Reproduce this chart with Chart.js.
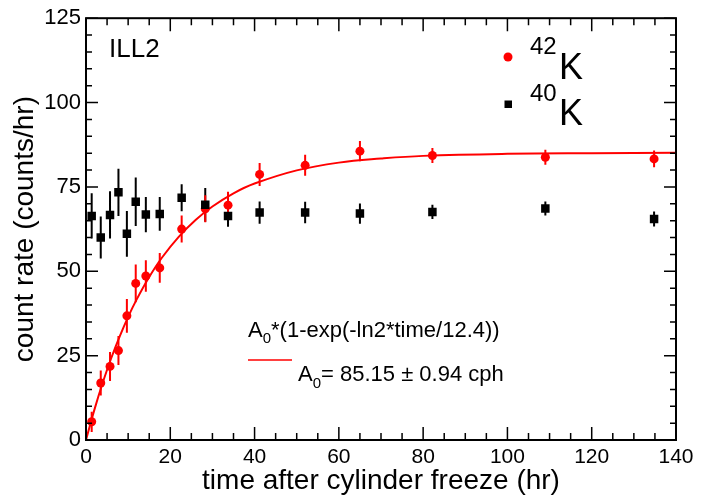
<!DOCTYPE html>
<html>
<head>
<meta charset="utf-8">
<script src="https://cdn.jsdelivr.net/npm/chart.js@4.4.1/dist/chart.umd.min.js"></script>
<style>
  html, body { margin: 0; padding: 0; background: #fff; }
  #wrap { width: 702px; height: 498px; }
</style>
</head>
<body>
<div id="wrap"><canvas id="chart"></canvas></div>
<script>
// measured points (hr after freeze)
const timeHr = [1.35, 3.5, 5.7, 7.7, 9.7, 11.8, 14.2, 17.5, 22.7, 28.3, 33.7, 41.2, 52.0, 65.0, 82.2, 109.0, 134.8];
const k42Rate = [5.4, 16.9, 21.8, 26.5, 36.8, 46.4, 48.6, 51.0, 62.5, 68.5, 69.6, 78.7, 81.4, 85.6, 84.3, 83.8, 83.3];
const k42Err = [3.0, 3.7, 4.3, 4.3, 5.0, 5.6, 4.7, 4.4, 4.0, 4.0, 4.0, 3.4, 3.1, 3.0, 2.2, 2.2, 2.5];
const k40Rate = [66.4, 60.0, 66.7, 73.4, 61.1, 70.6, 66.8, 67.0, 71.8, 69.7, 66.4, 67.4, 67.4, 67.1, 67.6, 68.6, 65.5];
const k40Err = [6.7, 6.2, 7.0, 7.0, 6.8, 7.2, 5.2, 5.0, 4.0, 5.0, 3.2, 3.3, 3.2, 3.0, 2.1, 2.1, 2.2];

// fit curve
const fitTime = [0, 2, 4, 6, 8, 10, 12, 15, 18, 22, 26, 30, 35, 40, 50, 60, 70, 80, 100, 120, 140];
const fitRate = [0, 9.0, 17.1, 24.3, 30.7, 36.5, 41.6, 48.3, 54.0, 60.2, 65.2, 69.2, 73.1, 76.0, 79.9, 82.2, 83.4, 84.2, 84.8, 85.0, 85.1];

const FONT = '"Liberation Sans", Arial, Helvetica, sans-serif';
const RED = '#ff0000';

const pts = (xs, ys) => xs.map((t, i) => ({ x: t, y: ys[i] }));

// error bars under the markers
const errorBars = {
  id: 'errorBars',
  beforeDatasetsDraw(chart) {
    const { ctx } = chart;
    const { x, y } = chart.scales;
    ctx.save();
    ctx.lineWidth = 2;
    chart.data.datasets.forEach(ds => {
      if (!ds.err) return;
      ctx.strokeStyle = ds.borderColor;
      ctx.beginPath();
      ds.data.forEach((p, i) => {
        const px = x.getPixelForValue(p.x);
        ctx.moveTo(px, y.getPixelForValue(p.y - ds.err[i]));
        ctx.lineTo(px, y.getPixelForValue(p.y + ds.err[i]));
      });
      ctx.stroke();
    });
    ctx.restore();
  }
};

// ROOT-like frame with inward ticks on all sides, plus text
const frame = {
  id: 'frame',
  afterDraw(chart) {
    const { ctx, chartArea: a } = chart;
    const { x, y } = chart.scales;
    ctx.save();
    ctx.strokeStyle = '#000';
    ctx.lineWidth = 1.5;
    ctx.beginPath();
    for (let v = 0; v <= 140; v += 5) {
      const px = x.getPixelForValue(v);
      const len = v % 20 === 0 ? 13 : 7;
      ctx.moveTo(px, a.bottom); ctx.lineTo(px, a.bottom - len);
      ctx.moveTo(px, a.top); ctx.lineTo(px, a.top + len);
    }
    for (let v = 0; v <= 125; v += 5) {
      const py = y.getPixelForValue(v);
      const len = v % 25 === 0 ? 12 : 6;
      ctx.moveTo(a.left, py); ctx.lineTo(a.left + len, py);
      ctx.moveTo(a.right, py); ctx.lineTo(a.right - len, py);
    }
    ctx.stroke();
    ctx.lineWidth = 2;
    ctx.strokeRect(a.left, a.top, a.right - a.left, a.bottom - a.top);

    ctx.fillStyle = '#000';
    ctx.textBaseline = 'alphabetic';
    ctx.textAlign = 'left';
    ctx.font = '26px ' + FONT;
    ctx.fillText('ILL2', 109, 56.5);

    // legend
    ctx.fillStyle = RED;
    ctx.beginPath();
    ctx.arc(508, 57, 4.5, 0, Math.PI * 2);
    ctx.fill();
    ctx.fillStyle = '#000';
    ctx.fillRect(504.5, 100.5, 7.5, 7.5);
    ctx.font = '24px ' + FONT;
    ctx.fillText('42', 530, 53.5);
    ctx.fillText('40', 530, 101);
    ctx.font = '36px ' + FONT;
    ctx.fillText('K', 559, 78.5);
    ctx.fillText('K', 559, 125);

    // fit box
    ctx.font = '22px ' + FONT;
    ctx.fillText('A', 248, 337);
    let w = ctx.measureText('A').width;
    ctx.font = '15px ' + FONT;
    ctx.fillText('0', 248 + w, 343);
    w += ctx.measureText('0').width;
    ctx.font = '22px ' + FONT;
    ctx.fillText('*(1-exp(-ln2*time/12.4))', 248 + w, 337);

    ctx.strokeStyle = RED;
    ctx.lineWidth = 1.5;
    ctx.beginPath();
    ctx.moveTo(248, 360); ctx.lineTo(292, 360);
    ctx.stroke();

    ctx.font = '22px ' + FONT;
    ctx.fillText('A', 298, 381);
    w = ctx.measureText('A').width;
    ctx.font = '15px ' + FONT;
    ctx.fillText('0', 298 + w, 388);
    w += ctx.measureText('0').width;
    ctx.font = '22px ' + FONT;
    ctx.fillText('= 85.15 \u00b1 0.94 cph', 298 + w, 381);
    ctx.restore();
  }
};

new Chart(document.getElementById('chart'), {
  type: 'scatter',
  data: {
    datasets: [
      {
        label: '40K',
        data: pts(timeHr, k40Rate),
        err: k40Err,
        pointStyle: 'rect',
        pointRadius: 6,
        backgroundColor: '#000',
        borderColor: '#000',
        borderWidth: 0
      },
      {
        label: '42K',
        data: pts(timeHr, k42Rate),
        err: k42Err,
        pointStyle: 'circle',
        pointRadius: 4.5,
        backgroundColor: RED,
        borderColor: RED,
        borderWidth: 0
      },
      {
        label: 'fit',
        type: 'line',
        data: pts(fitTime, fitRate),
        borderColor: RED,
        borderWidth: 2,
        pointRadius: 0,
        tension: 0.4,
        fill: false
      }
    ]
  },
  options: {
    responsive: true,
    maintainAspectRatio: false,
    animation: false,
    devicePixelRatio: 1,
    layout: { padding: { top: 15, right: 26, left: 0, bottom: 0 } },
    plugins: {
      legend: { display: false },
      tooltip: { enabled: false }
    },
    scales: {
      x: {
        type: 'linear',
        min: 0,
        max: 140,
        grid: { display: false, drawTicks: false },
        border: { display: false },
        ticks: {
          stepSize: 20,
          autoSkip: false,
          maxRotation: 0,
          padding: 5,
          color: '#000',
          font: { family: FONT, size: 21 }
        },
        title: {
          display: true,
          text: 'time after cylinder freeze (hr)',
          color: '#000',
          font: { family: FONT, size: 28 },
          padding: { top: 0, bottom: 0 }
        },
        afterFit: s => { s.height = 58; }
      },
      y: {
        min: 0,
        max: 125,
        grid: { display: false, drawTicks: false },
        border: { display: false },
        ticks: {
          stepSize: 25,
          padding: 5,
          color: '#000',
          font: { family: FONT, size: 22 }
        },
        title: {
          display: true,
          text: 'count rate (counts/hr)',
          color: '#000',
          font: { family: FONT, size: 28 },
          padding: { top: 8, bottom: 0 }
        },
        afterFit: s => { s.width = 86; }
      }
    }
  },
  plugins: [errorBars, frame]
});
</script>
</body>
</html>
